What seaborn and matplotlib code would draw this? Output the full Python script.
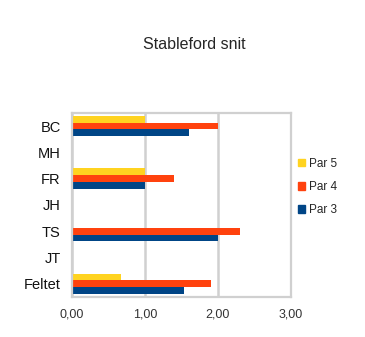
import matplotlib
matplotlib.use("Agg")
import matplotlib.pyplot as plt
import seaborn as sns
import pandas as pd
import numpy as np

players = ["BC", "MH", "FR", "JH", "TS", "JT", "Feltet"]
par5 = [1.00, np.nan, 1.00, np.nan, np.nan, np.nan, 0.67]
par4 = [2.00, np.nan, 1.40, np.nan, 2.30, np.nan, 1.90]
par3 = [1.60, np.nan, 1.00, np.nan, 2.00, np.nan, 1.53]
series = ["Par 5", "Par 4", "Par 3"]
colors = ["#FFD320", "#FF420E", "#004586"]
xticks = [0, 1, 2, 3]
xtick_labels = ["0,00", "1,00", "2,00", "3,00"]

df = pd.DataFrame({
    "player": players * 3,
    "serie": [s for s in series for _ in players],
    "value": par5 + par4 + par3,
})

sns.set_style("white")
plt.rcParams["font.family"] = ["Liberation Sans", "DejaVu Sans"]

fig = plt.figure(figsize=(3.65, 3.37), dpi=100)
ax = fig.add_axes([0.197, 0.119, 0.600, 0.546])

sns.barplot(data=df, x="value", y="player", hue="serie", order=players,
            hue_order=series, palette=colors, width=0.78, orient="h",
            linewidth=0, saturation=1, ax=ax, legend=False)

grid_color = "#d0d0d0"
ax.set_xlim(0, 3)
ax.set_ylim(6.5, -0.5)
ax.set_xticks(xticks)
ax.set_xticklabels(xtick_labels, fontsize=9, color="#333333")
ax.set_yticks(range(len(players)))
ax.set_yticklabels(players, fontsize=10.5, color="#111111")
ax.set_yticks(np.arange(-0.5, len(players)), minor=True)
ax.tick_params(axis="y", which="major", length=0, pad=8)
ax.tick_params(axis="y", which="minor", length=4, color=grid_color, width=1.2)
ax.tick_params(axis="x", which="major", length=4, color=grid_color, width=1.6, pad=4)
ax.set_xlabel("")
ax.set_ylabel("")
ax.grid(axis="x", color=grid_color, linewidth=1.8)
ax.set_axisbelow(True)
for side in ["left", "right", "top", "bottom"]:
    ax.spines[side].set_visible(True)
    ax.spines[side].set_color(grid_color)
    ax.spines[side].set_linewidth(1.6)

handles = [plt.Rectangle((0, 0), 1, 1, color=c) for c in colors]
fig.legend(handles, series, loc="center left", bbox_to_anchor=(0.80, 0.445),
           frameon=False, fontsize=8.5, handlelength=0.6, handleheight=0.6,
           handletextpad=0.3, labelspacing=0.95, borderpad=0)

fig.text(0.532, 0.868, "Stableford snit", ha="center", va="center", fontsize=11.5)

fig.savefig("out.png", dpi=100)
